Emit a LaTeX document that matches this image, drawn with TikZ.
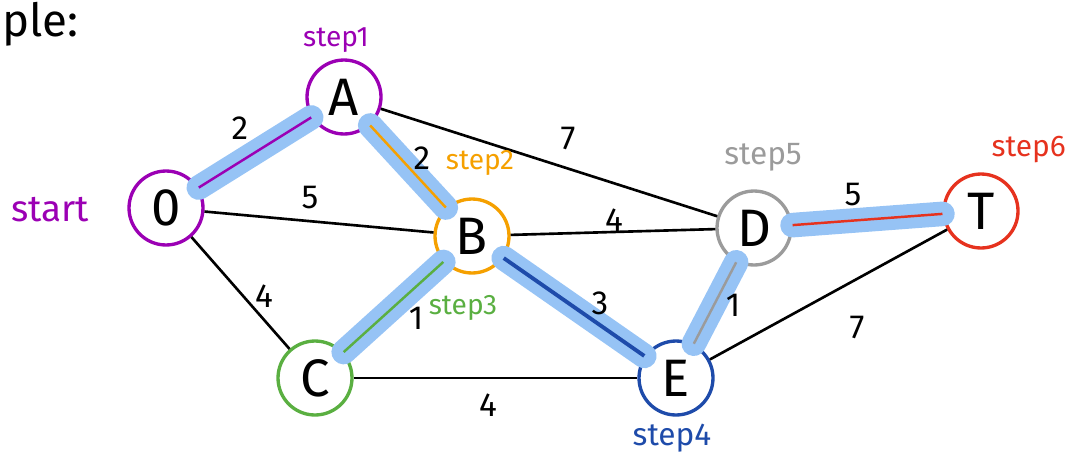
\documentclass[tikz,border=0pt]{standalone}
\usepackage{fontspec}
\setmainfont{Fira Sans}
\definecolor{hlblue}{RGB}{150,195,245}
\definecolor{cpurple}{RGB}{155,0,180}
\definecolor{corange}{RGB}{245,160,0}
\definecolor{cgreen}{RGB}{90,175,65}
\definecolor{cblue}{RGB}{30,75,170}
\definecolor{cgray}{RGB}{155,155,155}
\definecolor{cred}{RGB}{230,50,30}
\begin{document}
\begin{tikzpicture}[x=0.02cm,y=-0.02cm,
  vert/.style={circle,draw,line width=1.9pt,minimum size=1.48cm,inner sep=0pt,fill=white,font=\fontsize{30}{30}\selectfont},
  hl/.style={line width=14pt,line cap=round,draw=hlblue},
  edgeline/.style={line width=1.5pt},
  wt/.style={font=\fontsize{19}{19}\selectfont},
  lab/.style={font=\fontsize{16}{16}\selectfont},
  pathline/.style={line width=1.4pt}]
\useasboundingbox (0,0) rectangle (1074,470);
\node[font=\fontsize{26}{26}\selectfont, anchor=west] (title) at (-4,24) {ple:};
\path (166,208) coordinate (cO) (344,97) coordinate (cA) (472,236) coordinate (cB)
      (315,378) coordinate (cC) (676,378) coordinate (cE) (754,228) coordinate (cD) (981,211) coordinate (cT);
\node[vert,draw=cpurple] (O) at (cO) {0};
\node[vert,draw=cpurple] (A) at (cA) {A};
\node[vert,draw=corange] (B) at (cB) {B};
\node[vert,draw=cgreen] (C) at (cC) {C};
\node[vert,draw=cblue] (E) at (cE) {E};
\node[vert,draw=cgray] (D) at (cD) {D};
\node[vert,draw=cred] (T) at (cT) {T};
% plain edges
\draw[edgeline] (O) -- (B);
\draw[edgeline] (O) -- (C);
\draw[edgeline] (A) -- (D);
\draw[edgeline] (B) -- (D);
\draw[edgeline] (C) -- (E);
\draw[edgeline] (E) -- (T);
% highlights
\draw[hl] (O) -- (A);
\draw[hl] (A) -- (B);
\draw[hl] (B) -- (C);
\draw[hl] (B) -- (E);
\draw[hl] (E) -- (D);
\draw[hl] (D) -- (T);
% coloured path lines
\draw[pathline,cpurple] (O) -- (A);
\draw[pathline,corange] (A) -- (B);
\draw[pathline,cgreen] (B) -- (C);
\draw[line width=2.2pt,cblue] (B) -- (E);
\draw[pathline,cgray] (E) -- (D);
\draw[pathline,cred] (D) -- (T);
% weights
\node[wt] (w1) at (240,128) {2};
\node[wt] (w2) at (422,158) {2};
\node[wt] (w3) at (310,198) {5};
\node[wt] (w4) at (568,138) {7};
\node[wt] (w5) at (614,220) {4};
\node[wt] (w6) at (264,296) {4};
\node[wt] (w7) at (416,318) {1};
\node[wt] (w8) at (600,303) {3};
\node[wt] (w9) at (488,405) {4};
\node[wt] (w10) at (733,305) {1};
\node[wt] (w11) at (853,195) {5};
\node[wt] (w12) at (857,327) {7};
% step labels
\node[text=cpurple,font=\fontsize{21}{21}\selectfont] (start) at (50,210) {start};
\node[lab,text=cpurple] (s1) at (336,40) {step1};
\node[lab,text=corange] (s2) at (480,163) {step2};
\node[lab,text=cgreen] (s3) at (463,308) {step3};
\node[text=cblue,font=\fontsize{18}{18}\selectfont] (s4) at (672,438) {step4};
\node[text=cgray,font=\fontsize{18}{18}\selectfont] (s5) at (763,157) {step5};
\node[text=cred,font=\fontsize{17}{17}\selectfont,anchor=east] (s6) at (1072,150) {step6};
\end{tikzpicture}
\end{document}
